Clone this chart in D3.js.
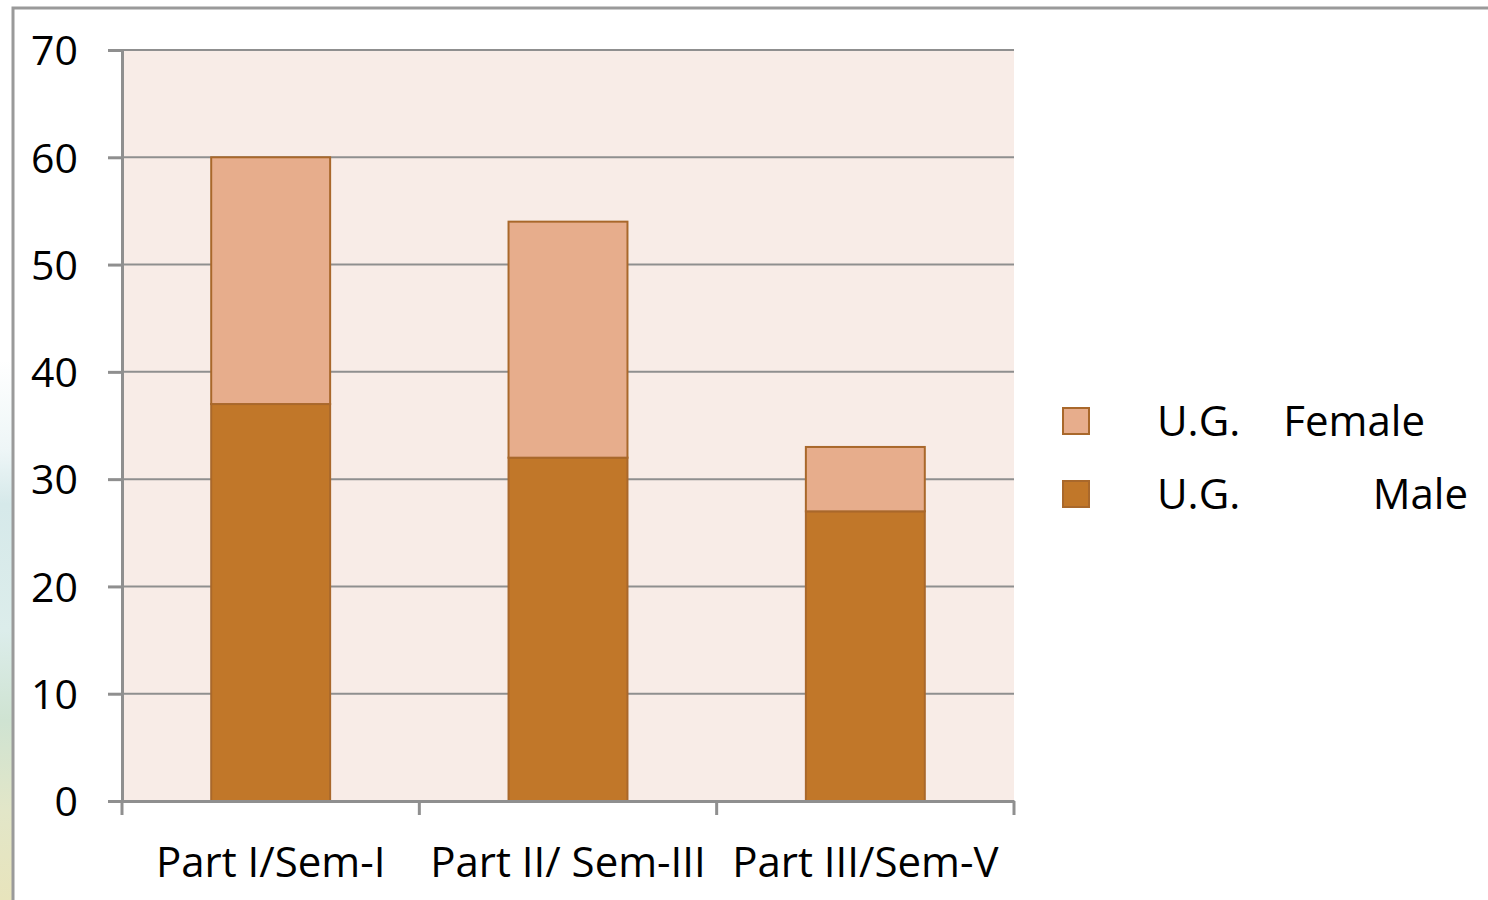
<!DOCTYPE html>
<html>
<head>
<meta charset="utf-8">
<script src="https://cdn.jsdelivr.net/npm/d3@7"></script>
<style>
  html, body { margin: 0; padding: 0; background: #fff; }
  svg { display: block; font-family: "Open Sans", sans-serif; }
</style>
</head>
<body>
<div id="chart"></div>
<script>
// chart data
const categories = ['Part I/Sem-I', 'Part II/ Sem-III', 'Part III/Sem-V'];
const maleValues = [37, 32, 27];
const femaleValues = [23, 22, 6];
const yTicks = [0, 10, 20, 30, 40, 50, 60, 70];
const seriesNames = [['U.G.', 'Female'], ['U.G.', 'Male']];

const W = 1488, H = 900;
const svg = d3.select('#chart').append('svg')
  .attr('width', W).attr('height', H);

// left strip background (slide picture peeking through)
const defs = svg.append('defs');
const grad = defs.append('linearGradient').attr('id', 'strip')
  .attr('x1', 0).attr('y1', 0).attr('x2', 0).attr('y2', 1);
[[0, '#ffffff'], [0.4, '#ffffff'], [0.5, '#eef6f7'], [0.56, '#d6e9ea'],
 [0.7, '#dcedeb'], [0.8, '#cfe3d2'], [0.9, '#e2e6c8'], [1, '#e8e4bc']]
  .forEach(s => grad.append('stop').attr('offset', s[0]).attr('stop-color', s[1]));
svg.append('rect').attr('x', 0).attr('y', 0).attr('width', 12).attr('height', H)
  .attr('fill', 'url(#strip)');

// outer frame
svg.append('path')
  .attr('d', 'M13,' + H + 'V8H' + W)
  .attr('fill', 'none').attr('stroke', '#9a9a9a').attr('stroke-width', 3);

const plot = {left: 122, right: 1014, top: 50, bottom: 801};

const x = d3.scaleBand().domain(categories)
  .range([plot.left, plot.right]).paddingInner(0).paddingOuter(0);
const y = d3.scaleLinear().domain([0, 70]).range([plot.bottom, plot.top]);

const g = svg.append('g');

g.append('rect')
  .attr('x', plot.left).attr('y', plot.top)
  .attr('width', plot.right - plot.left).attr('height', plot.bottom - plot.top)
  .attr('fill', '#f8ece7');

// gridlines
g.append('g').selectAll('line').data(yTicks.filter(d => d > 0)).enter()
  .append('line')
  .attr('x1', plot.left).attr('x2', plot.right)
  .attr('y1', d => y(d)).attr('y2', d => y(d))
  .attr('stroke', '#8f8f8f').attr('stroke-width', 2);

// stacked bars
const stackData = categories.map((c, i) => ({cat: c, male: maleValues[i], female: femaleValues[i]}));
const stack = d3.stack().keys(['male', 'female'])(stackData);
const fills = {male: '#c17729', female: '#e7ad8c'};
const barW = x.bandwidth() * 0.4;

stack.forEach(layer => {
  g.append('g').selectAll('rect').data(layer).enter()
    .append('rect')
    .attr('x', d => x(d.data.cat) + (x.bandwidth() - barW) / 2)
    .attr('y', d => y(d[1]))
    .attr('width', barW)
    .attr('height', d => y(d[0]) - y(d[1]))
    .attr('fill', fills[layer.key])
    .attr('stroke', '#a9682b').attr('stroke-width', 2);
});

// y axis
const yAxis = g.append('g').attr('transform', 'translate(' + plot.left + ',0)')
  .call(d3.axisLeft(y).tickValues(yTicks).tickSize(14).tickPadding(30));
yAxis.select('.domain').attr('stroke', '#8f8f8f').attr('stroke-width', 3);
yAxis.selectAll('.tick line').attr('stroke', '#8f8f8f').attr('stroke-width', 3);
yAxis.selectAll('.tick text').attr('font-size', 41).attr('fill', '#000')
  .attr('font-family', '"Open Sans", sans-serif').attr('dy', '0.36em');

// x axis
const xAxis = g.append('g').attr('transform', 'translate(0,' + plot.bottom + ')')
  .call(d3.axisBottom(x).tickSize(0).tickPadding(46));
xAxis.select('.domain').attr('stroke', '#8f8f8f').attr('stroke-width', 3);
xAxis.selectAll('.tick text').attr('font-size', 42).attr('fill', '#000')
  .attr('font-family', '"Open Sans", sans-serif');
// category boundary ticks
const bounds = categories.map(c => x(c)).concat([plot.right]);
xAxis.selectAll('.bound').data(bounds).enter().append('line')
  .attr('x1', d => d).attr('x2', d => d).attr('y1', 0).attr('y2', 14)
  .attr('stroke', '#8f8f8f').attr('stroke-width', 3);

// legend
const legend = svg.append('g');
const legendItems = [
  {name: seriesNames[0], key: 'female', y: 421, end: 1425},
  {name: seriesNames[1], key: 'male', y: 494, end: 1468}
];
legendItems.forEach(it => {
  legend.append('rect')
    .attr('x', 1063).attr('y', it.y - 13).attr('width', 26).attr('height', 26)
    .attr('fill', fills[it.key]).attr('stroke', '#a9682b').attr('stroke-width', 2);
  legend.append('text')
    .attr('x', 1157).attr('y', it.y + 15)
    .attr('font-size', 42).attr('fill', '#000')
    .text(it.name[0]);
  legend.append('text')
    .attr('x', it.end).attr('y', it.y + 15)
    .attr('text-anchor', 'end')
    .attr('font-size', 42).attr('fill', '#000')
    .text(it.name[1]);
});
</script>
</body>
</html>
